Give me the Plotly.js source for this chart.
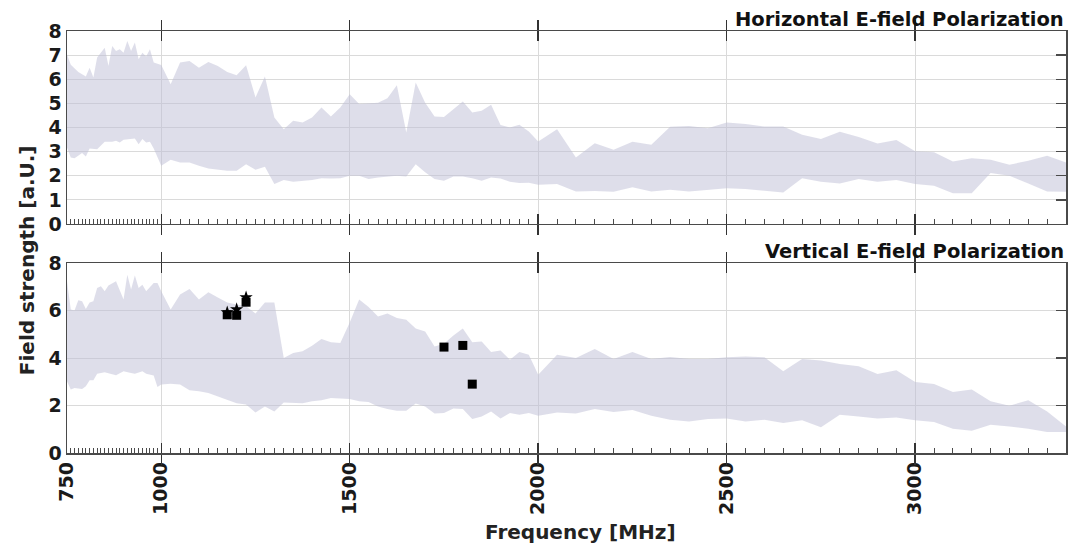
<!DOCTYPE html>
<html>
<head>
<meta charset="utf-8">
<script src="https://cdn.plot.ly/plotly-3.0.1.min.js"></script>
<style>html,body{margin:0;padding:0;background:#fff;}#chart{width:1076px;height:547px;}</style>
</head>
<body>
<div id="chart"></div>
<script>
// ---------- DATA ----------
// Horizontal polarization: envelope (upper / lower edge) of field strength
const hFreqUpper = [750,760,780,800,810,820,830,850,860,870,880,890,900,910,920,930,940,950,960,970,980,1000,
  1025,1050,1075,1100,1125,1150,1175,1200,1225,1250,1275,1300,1325,1350,1375,1400,1425,1450,1475,1500,
  1525,1550,1575,1600,1625,1650,1675,1700,1725,1750,1775,1800,1825,1850,1875,1900,1925,1950,1975,2000,
  2050,2100,2150,2200,2250,2300,2350,2400,2450,2500,2550,2600,2650,2700,2750,2800,2850,2900,2950,3000,
  3050,3100,3150,3200,3250,3300,3350,3400];
const hUpper = [7.03,6.6,6.3,6.11,6.48,6.07,6.9,7.31,6.55,7.38,7.17,7.24,7.1,7.59,7.17,7.52,6.83,7.1,6.94,7.24,6.69,6.59,
  5.79,6.69,6.76,6.48,6.72,6.55,6.3,6.17,6.58,5.24,6.11,4.41,3.93,4.28,4.21,4.41,4.83,4.46,4.83,5.38,
  4.97,4.99,5.03,5.21,5.75,3.79,5.86,5.03,4.46,4.44,4.76,5.08,4.62,4.69,4.94,4.1,4.0,4.11,3.83,3.42,
  3.93,2.76,3.35,3.08,3.41,3.28,4.03,4.06,3.97,4.21,4.14,4.04,4.04,3.7,3.52,3.82,3.61,3.34,3.48,3.01,
  2.97,2.59,2.73,2.66,2.46,2.62,2.83,2.55];
const hFreqLower = [750,760,770,790,800,810,830,850,870,880,890,900,920,930,940,950,960,970,980,1000,
  1025,1050,1075,1100,1125,1150,1175,1200,1225,1250,1275,1300,1325,1350,1375,1400,1425,1450,1475,1500,
  1525,1550,1575,1600,1625,1650,1675,1700,1725,1750,1775,1800,1825,1850,1875,1900,1925,1950,1975,2000,
  2050,2100,2150,2200,2250,2300,2350,2400,2450,2500,2550,2600,2650,2700,2750,2800,2850,2900,2950,3000,
  3050,3100,3150,3200,3250,3300,3350,3400];
const hLower = [3.17,2.76,2.72,2.94,2.8,3.13,3.1,3.41,3.41,3.45,3.38,3.49,3.52,3.54,3.31,3.52,3.38,3.41,3.13,2.41,
  2.66,2.55,2.55,2.41,2.3,2.25,2.21,2.21,2.48,2.25,2.37,1.66,1.82,1.75,1.78,1.82,1.9,1.89,1.9,2.0,
  2.0,1.86,1.93,1.97,2.0,1.97,2.48,2.14,1.86,1.79,1.97,1.97,1.9,1.79,1.93,1.89,1.75,1.7,1.71,1.63,
  1.66,1.35,1.37,1.34,1.52,1.35,1.42,1.35,1.42,1.48,1.45,1.38,1.31,1.9,1.75,1.68,1.86,1.75,1.82,1.66,
  1.59,1.27,1.27,2.11,2.0,1.68,1.35,1.34];

// Vertical polarization: envelope (upper / lower edge)
const vFreqUpper = [750,760,770,780,790,800,810,820,830,840,850,860,880,900,910,920,930,940,950,960,980,990,1000,
  1025,1050,1075,1100,1125,1150,1175,1200,1225,1250,1275,1300,1325,1350,1375,1400,1425,1450,1475,1500,
  1525,1550,1575,1600,1625,1650,1675,1700,1725,1750,1775,1800,1825,1850,1875,1900,1925,1950,1975,2000,
  2050,2100,2150,2200,2250,2300,2350,2400,2450,2500,2550,2600,2650,2700,2750,2800,2850,2900,2950,3000,
  3050,3100,3150,3200,3250,3300,3350,3400];
const vUpper = [7.23,6.04,6.0,6.43,6.39,6.06,6.34,6.39,6.95,7.02,6.81,7.05,7.23,6.46,7.51,6.88,7.47,6.95,7.09,6.81,7.16,7.16,6.81,
  6.04,6.67,6.91,6.46,6.77,6.55,6.34,6.25,6.18,5.87,6.34,6.34,4.0,4.21,4.28,4.52,4.8,4.66,4.63,5.5,
  6.46,6.15,5.75,5.87,5.68,5.61,5.24,5.12,4.49,4.6,4.95,5.24,4.66,4.7,4.25,4.32,3.93,4.25,4.14,3.3,
  4.14,4.0,4.38,3.96,4.25,3.96,4.04,3.96,3.96,4.03,4.06,4.03,3.44,3.96,3.9,3.75,3.65,3.33,3.48,2.99,
  2.91,2.57,2.67,2.18,1.99,2.22,1.75,1.12];
const vFreqLower = [750,760,770,790,800,810,820,830,850,860,880,900,920,930,950,960,980,990,1000,
  1025,1050,1075,1100,1125,1150,1175,1200,1225,1250,1275,1300,1325,1350,1375,1400,1425,1450,1475,1500,
  1525,1550,1575,1600,1625,1650,1675,1700,1725,1750,1775,1800,1825,1850,1875,1900,1925,1950,1975,2000,
  2050,2100,2150,2200,2250,2300,2350,2400,2450,2500,2550,2600,2650,2700,2750,2800,2850,2900,2950,3000,
  3050,3100,3150,3200,3250,3300,3350,3400];
const vLower = [3.02,2.67,2.74,2.69,2.81,3.06,3.06,3.34,3.4,3.34,3.27,3.44,3.37,3.34,3.44,3.34,3.26,2.78,2.88,
  2.92,2.88,2.64,2.6,2.53,2.39,2.25,2.1,2.04,1.71,1.96,1.75,2.13,2.1,2.1,2.18,2.22,2.32,2.29,2.27,
  2.18,2.15,1.96,1.85,1.78,1.78,2.08,1.96,1.66,1.68,1.87,1.85,1.43,1.54,1.75,1.45,1.68,1.61,1.68,1.57,
  1.71,1.66,1.85,1.73,1.81,1.57,1.4,1.33,1.43,1.45,1.33,1.4,1.26,1.38,1.08,1.61,1.54,1.45,1.5,1.38,
  1.31,1.02,0.94,1.19,1.12,1.02,0.88,0.88];

// Individual measurements (vertical polarization)
const sqFreq = [1175,1200,1225,1750,1800,1825];
const sqVals = [5.82,5.8,6.35,4.46,4.53,2.9];
const starFreq = [1175,1200,1225];
const starVals = [5.92,6.05,6.55];

// Axis tick labels
const xTickVals = [750,1000,1500,2000,2500,3000,3400];
const xTickText = ['750','1000','1500','2000','2500','3000','3400'];
const panelTitles = ['Horizontal E-field Polarization','Vertical E-field Polarization'];

// ---------- BUILD ----------
function band(xu, yu, xl, yl, xa, ya) {
  return {
    x: xu.concat(xl.slice().reverse()),
    y: yu.concat(yl.slice().reverse()),
    type: 'scatter', mode: 'lines', fill: 'toself',
    fillcolor: 'rgba(189,189,213,0.5)', line: {width: 0},
    hoverinfo: 'skip', showlegend: false, xaxis: xa, yaxis: ya
  };
}
function dummy(xa, ya) {
  return {x: [null], y: [null], type: 'scatter', mode: 'markers', xaxis: xa, yaxis: ya,
          showlegend: false, hoverinfo: 'skip'};
}
const traces = [
  band(hFreqUpper, hUpper, hFreqLower, hLower, 'x', 'y'),
  band(vFreqUpper, vUpper, vFreqLower, vLower, 'x2', 'y2'),
  {x: sqFreq, y: sqVals, type: 'scatter', mode: 'markers', xaxis: 'x2', yaxis: 'y2', showlegend: false,
   marker: {symbol: 'square', size: 9, color: '#000'}},
  {x: starFreq, y: starVals, type: 'scatter', mode: 'markers', xaxis: 'x2', yaxis: 'y2', showlegend: false,
   marker: {symbol: 'star', size: 10, color: '#000'}},
  dummy('x3', 'y'), dummy('x4', 'y2'), dummy('x', 'y3'), dummy('x2', 'y4')
];

// minor tick positions (sampling grid)
const minorVals = [];
for (let f = 760; f < 1000; f += 10) minorVals.push(f);
for (let f = 1025; f < 2000; f += 25) if (f % 500) minorVals.push(f);
for (let f = 2050; f < 3400; f += 50) if (f % 500) minorVals.push(f);

const AX = '#4a4a4a';
const GRID = '#dadada';
const tickFont = {family: 'DejaVu Sans', size: 19, color: '#1a1a1a', weight: 'bold'};
const yTop = [0.5427, 1];
const yBot = [0, 0.4502];

// main x axes carry the long major ticks (inside, top and bottom)
function xMain(anchor, labels) {
  return {
    domain: [0, 1], anchor: anchor, range: [750, 3400], type: 'linear',
    tickmode: 'array', tickvals: xTickVals, ticktext: xTickText,
    showticklabels: labels, tickangle: -90, tickfont: tickFont,
    ticks: 'inside', ticklen: 10, tickwidth: 1.5, tickcolor: '#333',
    showline: true, linecolor: AX, linewidth: 1.5, mirror: 'allticks',
    showgrid: true, gridcolor: GRID, gridwidth: 1, zeroline: false, fixedrange: true,
    layer: 'above traces'
  };
}
function xOver(over, anchor, vals, len, side, w) {
  return {
    overlaying: over, anchor: anchor, side: side, range: [750, 3400], type: 'linear',
    tickmode: 'array', tickvals: vals, showticklabels: false,
    ticks: 'inside', ticklen: len, tickwidth: w, tickcolor: AX,
    showline: false, showgrid: false, zeroline: false, fixedrange: true
  };
}
function yMain(dom, anchor, dt) {
  return {
    domain: dom, anchor: anchor, range: [0, 8], dtick: dt, tick0: 0,
    tickfont: tickFont, ticks: '', showline: true, linecolor: AX, linewidth: 1.5, mirror: true,
    showgrid: true, gridcolor: GRID, gridwidth: 1, zeroline: false, fixedrange: true
  };
}
function yRight(over, anchor, dt) {
  return {
    overlaying: over, anchor: anchor, side: 'right', range: [0, 8], dtick: dt, tick0: 0,
    showticklabels: false, ticks: 'inside', ticklen: 10, tickwidth: 1.3, tickcolor: AX,
    showline: false, showgrid: false, zeroline: false, fixedrange: true
  };
}

const titleFont = {family: 'DejaVu Sans', size: 19.5, color: '#111', weight: 'bold'};
const axTitleFont = {family: 'DejaVu Sans', size: 20, color: '#222', weight: 'bold'};

const layout = {
  width: 1076, height: 547,
  margin: {l: 67, r: 10, t: 31, b: 94, pad: 0},
  paper_bgcolor: '#fff', plot_bgcolor: '#fff',
  showlegend: false,
  xaxis: xMain('y', false),
  yaxis: yMain(yTop, 'x', 1),
  xaxis2: xMain('y2', true),
  yaxis2: yMain(yBot, 'x2', 2),
  xaxis3: xOver('x', 'y', minorVals, 5, 'bottom', 1),
  xaxis4: xOver('x2', 'y2', minorVals, 5, 'bottom', 1),
  yaxis3: yRight('y', 'x', 1),
  yaxis4: yRight('y2', 'x2', 2),
  annotations: [
    {text: panelTitles[0], xref: 'paper', yref: 'paper', x: 1, y: 1, xanchor: 'right', yanchor: 'bottom',
     showarrow: false, font: titleFont, yshift: -2},
    {text: panelTitles[1], xref: 'paper', yref: 'paper', x: 1, y: yBot[1], xanchor: 'right', yanchor: 'bottom',
     showarrow: false, font: titleFont, yshift: -2},
    {text: 'Field strength [a.U.]', xref: 'paper', yref: 'paper', x: -0.04, y: 0.457, textangle: -90,
     xanchor: 'center', yanchor: 'middle', showarrow: false, font: axTitleFont},
    {text: 'Frequency [MHz]', xref: 'paper', yref: 'paper', x: 0.5145, y: -0.187,
     xanchor: 'center', yanchor: 'middle', showarrow: false, font: axTitleFont}
  ]
};

Plotly.newPlot('chart', traces, layout, {staticPlot: true, displayModeBar: false});
</script>
</body>
</html>
